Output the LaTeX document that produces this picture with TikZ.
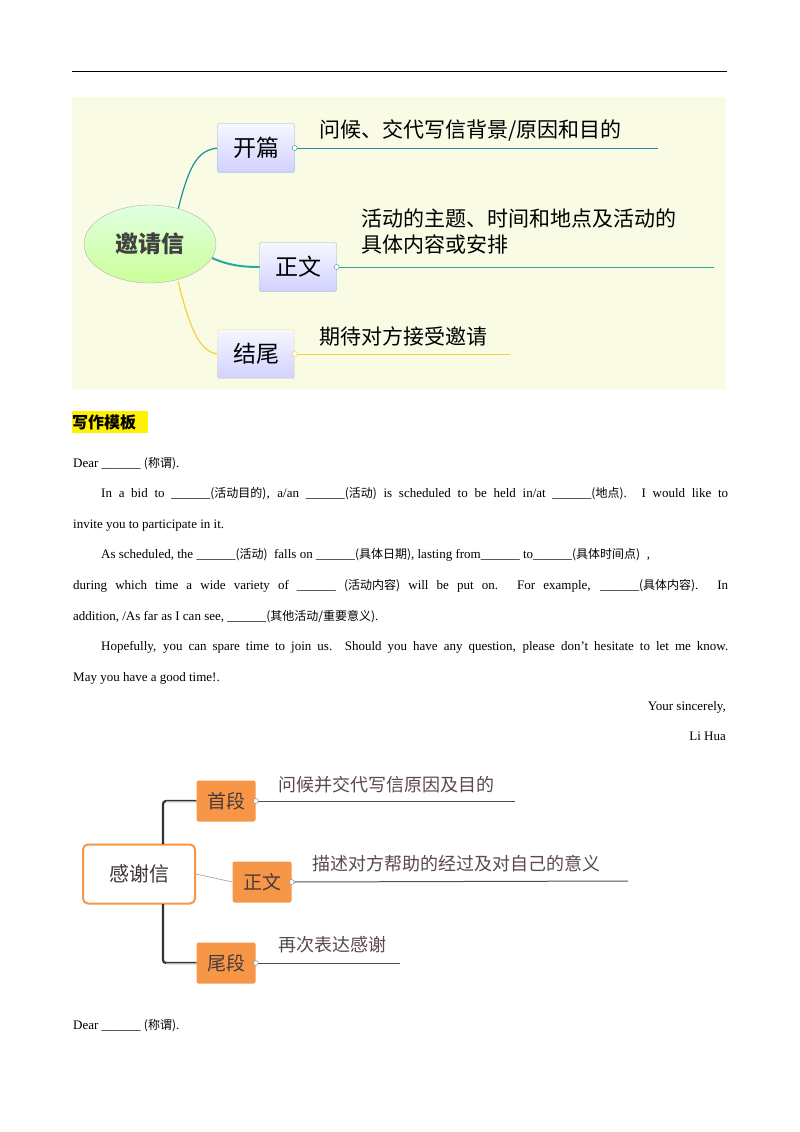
\documentclass[tikz,border=0pt]{standalone}
\usepackage{fontspec}
\setmainfont{Liberation Serif}
\newfontfamily\cjk{Noto Sans CJK SC}
\usetikzlibrary{shapes.geometric}
\definecolor{bgy}{HTML}{FAFBE4}
\definecolor{teal1}{HTML}{1B8E9A}
\definecolor{teal2}{HTML}{2AA8A0}
\definecolor{yl}{HTML}{F2D43A}
\definecolor{org}{HTML}{F79646}
\definecolor{brn}{HTML}{5A4A4A}
\tikzset{
  bluebox/.style={draw=#1,rounded corners=2pt,top color=white!60!blue!8,bottom color=blue!18,minimum width=77pt,minimum height=49pt,inner sep=0pt,font=\cjk\fontsize{23}{23}\selectfont},
  mtext/.style={anchor=west,font=\cjk\fontsize{21}{26}\selectfont,align=left,inner sep=0pt},
  orgbox/.style={fill=org,rounded corners=2pt,minimum width=59pt,minimum height=41pt,inner sep=0pt,font=\cjk\fontsize{19}{19}\selectfont,text=brn!80!black},
  otext/.style={anchor=west,font=\cjk\fontsize{18}{18}\selectfont,text=brn,inner sep=0pt},
  body/.style={anchor=base west,inner sep=0pt,font=\fontsize{13}{15}\selectfont},
  knob/.style={circle,draw=#1,fill=white,inner sep=0pt,minimum size=5pt},
}
\newcommand{\cz}[1]{{\cjk\fontsize{12}{14}\selectfont #1}}
\newcommand{\bl}{\_\_\_\_\_\_}
\begin{document}
\begin{tikzpicture}[x=1pt,y=-1pt]
\useasboundingbox (0,0) rectangle (800,1132);
\fill[white] (0,0) rectangle (800,1132);
\draw[line width=1pt] (72,72) -- (727,72);
% mindmap 1
\fill[bgy] (72,97) rectangle (726,390);
\draw[teal1,line width=1.2pt] (178,210) .. controls (190,160) and (200,150) .. (218,148);
\draw[teal2,line width=2pt] (212,258) .. controls (230,266) and (245,267) .. (260,267);
\draw[yl,line width=1.2pt] (178,281) .. controls (190,330) and (200,352) .. (218,354);
\node[ellipse,draw=gray!60,top color=green!12,bottom color=green!35!lime!40,minimum width=132pt,minimum height=78pt,font=\cjk\bfseries\fontsize{23}{23}\selectfont,text=black!75] (root) at (150,244) {邀请信};
\node[bluebox=teal!50] (kp) at (256,148) {开篇};
\node[bluebox=teal!50] (zw) at (298,267) {正文};
\node[bluebox=yl!70] (jw) at (256,354) {结尾};
\draw[teal1] (kp.east) -- (658,148);
\draw[teal2] (zw.east) -- (714,267);
\draw[yl] (jw.east) -- (510,354);
\node[knob=teal1] at (kp.east) {};
\node[knob=teal2] at (zw.east) {};
\node[knob=yl] at (jw.east) {};
\node[mtext] (t1) at (319,130) {问候、交代写信背景/原因和目的};
\node[mtext] (t2) at (361,231) {活动的主题、时间和地点及活动的\\具体内容或安排};
\node[mtext] (t3) at (319,336) {期待对方接受邀请};
% heading
\fill[yellow] (72,411) rectangle (148,433);
\node[anchor=west,inner sep=0pt,font=\cjk\bfseries\fontsize{16}{16}\selectfont] (hd) at (72,422) {写作模板};
% body text
\node[body] (l0) at (73,467) {Dear \bl{} \cz{(称谓)}.};
\node[body] (l1) at (101,497) {\makebox[627pt][s]{In a bid to \bl\cz{(活动目的)}, a/an \bl\cz{(活动)} is scheduled to be held in/at \bl\cz{(地点)}. I would like to}};
\node[body] (l2) at (73,528) {invite you to participate in it.};
\node[body] (l3) at (101,558) {As scheduled, the \bl\cz{(活动)}\ \ falls on \bl\cz{(具体日期)}, lasting from\bl{} to\bl\cz{(具体时间点)}\ \ ,};
\node[body] (l4) at (73,589) {\makebox[655pt][s]{during which time a wide variety of \bl{} \cz{(活动内容)} will be put on. For example, \bl\cz{(具体内容)}. In}};
\node[body] (l5) at (73,620) {addition, /As far as I can see, \bl\cz{(其他活动/重要意义)}.};
\node[body] (l6) at (101,650) {\makebox[627pt][s]{Hopefully, you can spare time to join us. Should you have any question, please don’t hesitate to let me know.}};
\node[body] (l7) at (73,681) {May you have a good time!.};
\node[body,anchor=base east] (l8) at (726,710) {Your sincerely,};
\node[body,anchor=base east] (l9) at (726,740) {Li Hua};
% mindmap 2
\node[draw=org,line width=2pt,rounded corners=5pt,fill=white,minimum width=112pt,minimum height=59pt,font=\cjk\fontsize{20}{20}\selectfont,text=brn!70!black] (gx) at (139,874) {感谢信};
\node[orgbox] (sd) at (226,801) {首段};
\node[orgbox] (zw2) at (262,882) {正文};
\node[orgbox] (wd) at (226,963) {尾段};
\draw[black!80,line width=2.2pt,rounded corners=3pt] (163,844) |- (sd.west);
\draw[black!80,line width=2.2pt,rounded corners=3pt] (163,904) |- (wd.west);
\draw[gray!60,line width=0.8pt] (166,801) -- (sd.west);
\draw[gray!60,line width=0.8pt] (166,963) -- (wd.west);
\draw[gray!60,line width=0.8pt] (gx.east) -- (zw2.west);
\draw[brn,line width=1pt] (sd.east) -- (515,801);
\draw[brn,line width=1pt] (zw2.east) -- (628,881);
\draw[brn,line width=1pt] (wd.east) -- (400,963);
\node[knob=gray] at (sd.east) {};
\node[knob=gray] at (zw2.east) {};
\node[knob=gray] at (wd.east) {};
\node[otext] (o1) at (278,785) {问候并交代写信原因及目的};
\node[otext] (o2) at (312,864) {描述对方帮助的经过及对自己的意义};
\node[otext] (o3) at (278,945) {再次表达感谢};
\node[body] (l10) at (73,1029) {Dear \bl{} \cz{(称谓)}.};
\end{tikzpicture}
\end{document}
